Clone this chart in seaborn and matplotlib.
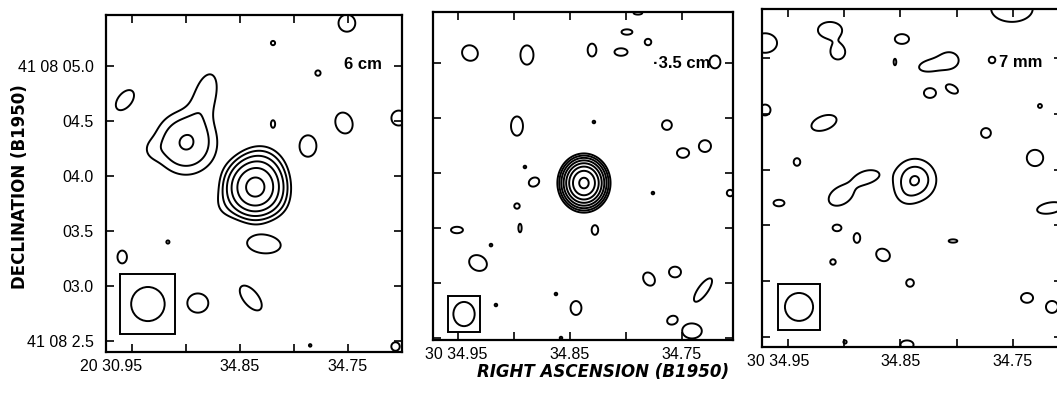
import numpy as np
import pandas as pd
import matplotlib
matplotlib.use("Agg")
import matplotlib.pyplot as plt
import matplotlib.transforms as mtransforms
from matplotlib.patches import Ellipse, Rectangle
import seaborn as sns

# ---------------- data (RA seconds, Dec arcsec offsets from 41 08 00) ----------------
# Panel 1 : 6 cm
p1_ra   = [34.836, 34.830, 34.864, 34.816, 34.900, 34.882, 34.9315,
           34.9565, 34.959, 34.889, 34.840, 34.8278, 34.787, 34.7537, 34.751,
           34.8194, 34.7778, 34.8194, 34.9167, 34.703, 34.706, 34.785]
p1_dec  = [3.895, 4.07, 3.725, 3.745, 4.30, 4.736, 4.236,
           4.69, 3.264, 2.845, 2.891, 3.38, 4.273, 4.482, 5.39,
           5.209, 4.936, 4.473, 3.40, 4.527, 2.45, 2.46]
p1_peak = [40.0, 3.0, 0.8, 0.6, 4.2, 1.6, 0.7,
           1.6, 1.6, 1.6, 1.6, 1.6, 1.6, 1.6, 1.6,
           1.6, 1.6, 1.6, 1.6, 1.6, 1.6, 1.6]
p1_sx   = [0.12, 0.12, 0.10, 0.10, 0.17, 0.20, 0.08,
           0.11, 0.045, 0.10, 0.14, 0.16, 0.08, 0.08, 0.08,
           0.02, 0.025, 0.02, 0.015, 0.07, 0.04, 0.012]
p1_sy   = [0.12, 0.12, 0.10, 0.10, 0.17, 0.095, 0.08,
           0.065, 0.06, 0.09, 0.07, 0.085, 0.10, 0.10, 0.08,
           0.02, 0.025, 0.035, 0.015, 0.07, 0.04, 0.012]
p1_pa   = [0, 0, 0, 0, 0, 74, 0,
           50, 0, 0, -50, -5, 0, 20, 0,
           0, 0, 0, 0, 0, 0, 0]
p1_levels = [1, 2, 4, 8, 16, 32]

# Panel 2 : 3.5 cm
p2_ra   = [34.8375,
           34.9393, 34.8884, 34.8303, 34.8044, 34.7991, 34.7803, 34.7205, 34.7893,
           34.8973, 34.8286, 34.7634, 34.7491, 34.7294, 34.8902, 34.8821, 34.8973,
           34.8277, 34.8946, 34.9509, 34.9205, 34.9321, 34.7759, 34.7070, 34.7794,
           34.7562, 34.7312, 34.8625, 34.9161, 34.8446, 34.7589, 34.741, 34.858]
p2_dec  = [3.909,
           5.091, 5.073, 5.118, 5.10, 5.282, 5.191, 5.01, 5.455,
           4.427, 4.464, 4.436, 4.182, 4.245, 4.055, 3.918, 3.70,
           3.482, 3.50, 3.482, 3.345, 3.182, 3.818, 3.818, 3.036,
           3.10, 2.936, 2.90, 2.80, 2.773, 2.664, 2.564, 2.50]
p2_peak = [150.0] + [1.6] * 32
p2_sx   = [0.075,
           0.07, 0.06, 0.04, 0.06, 0.05, 0.03, 0.05, 0.04,
           0.055, 0.012, 0.045, 0.055, 0.055, 0.012, 0.05, 0.025,
           0.03, 0.015, 0.055, 0.012, 0.07, 0.012, 0.03, 0.05,
           0.055, 0.13, 0.012, 0.012, 0.05, 0.045, 0.09, 0.012]
p2_sy   = [0.085,
           0.075, 0.09, 0.06, 0.035, 0.025, 0.03, 0.06, 0.015,
           0.09, 0.012, 0.045, 0.045, 0.055, 0.012, 0.04, 0.025,
           0.045, 0.04, 0.03, 0.012, 0.085, 0.012, 0.03, 0.065,
           0.05, 0.045, 0.012, 0.012, 0.065, 0.035, 0.07, 0.012]
p2_pa   = [0,
           45, 0, 0, 0, 0, 0, 0, 0,
           0, 0, 0, 0, 0, 0, 30, 0,
           0, 0, 0, 0, 60, 0, 0, 30,
           0, 55, 0, 0, 0, 30, 0, 0]
p2_levels = [1, 2, 4, 8, 16, 32, 64, 128]

# Panel 3 : 7 mm
p3_ra   = [34.8371, 34.846,
           34.7509, 34.9127, 34.9056, 34.9704, 34.8487, 34.8549, 34.8238, 34.8065,
           34.7686, 34.8238, 34.8042, 34.726, 34.9704, 34.918, 34.774, 34.7304,
           34.942, 34.903, 34.8795, 34.958, 34.7170, 34.9064, 34.8887, 34.8033,
           34.8655, 34.91, 34.8415, 34.7375, 34.7153, 34.8442, 34.8993]
p3_dec  = [3.907, 3.754,
           5.44, 5.25, 5.05, 5.134, 5.17, 4.964, 4.93, 4.98,
           4.982, 4.686, 4.722, 4.57, 4.534, 4.418, 4.328, 4.104,
           4.068, 3.765, 3.935, 3.70, 3.656, 3.477, 3.387, 3.36,
           3.235, 3.172, 2.984, 2.85, 2.769, 2.43, 2.455]
p3_peak = [3.1, 0.5] + [1.6] * 31
p3_sx   = [0.126, 0.08,
           0.19, 0.11, 0.065, 0.11, 0.065, 0.012, 0.10, 0.08,
           0.03, 0.055, 0.06, 0.018, 0.05, 0.12, 0.045, 0.075,
           0.03, 0.12, 0.10, 0.05, 0.12, 0.04, 0.03, 0.04,
           0.055, 0.025, 0.035, 0.055, 0.055, 0.06, 0.015]
p3_sy   = [0.126, 0.08,
           0.12, 0.075, 0.065, 0.09, 0.045, 0.03, 0.05, 0.07,
           0.03, 0.045, 0.035, 0.018, 0.05, 0.065, 0.045, 0.075,
           0.035, 0.08, 0.055, 0.03, 0.05, 0.03, 0.045, 0.015,
           0.065, 0.025, 0.035, 0.045, 0.055, 0.04, 0.015]
p3_pa   = [0, 0,
           0, 0, 0, 0, 0, 0, 10, 0,
           0, 0, -30, 0, 0, 20, 0, 0,
           0, 30, 15, 0, 10, 0, 0, 0,
           60, 0, 0, 0, 0, 0, 0]
p3_levels = [1, 2, 3]

# Restoring beams (centre RA, centre Dec, diameter x, diameter y in arcsec)
beam_ra  = [34.9352, 34.9446, 34.9402]
beam_dec = [2.836, 2.718, 2.769]
beam_w   = [0.31, 0.19, 0.25]
beam_h   = [0.31, 0.22, 0.25]

bands = ["6 cm", "\u00b73.5 cm", "7 mm"]
ra_ticks = [34.95, 34.90, 34.85, 34.80, 34.75]
ra_labels_first = ["20 30.95", "30 34.95", "30 34.95"]
ra_labels_other = ["34.85", "34.75"]
dec_ticks = [5.0, 4.5, 4.0, 3.5, 3.0, 2.5]
dec_labels = ["41 08 05.0", "04.5", "04.0", "03.5", "03.0", "41 08 2.5"]

# ---------------- style ----------------
sns.set_theme(style="ticks")
plt.rcParams['font.family'] = ['Liberation Sans', 'DejaVu Sans']
plt.rcParams['axes.linewidth'] = 1.6

W, H = 1057, 401
fig = plt.figure(figsize=(W / 100, H / 100), dpi=100)
fig.patch.set_facecolor('white')

# axes boxes in pixels: left, right, top, bottom
boxes = [(106, 402, 15, 352), (433, 733, 12, 340), (762, 1062, 9, 347)]
xlims = [(34.974, 34.700), (34.9723, 34.7044), (34.9731, 34.7064)]
ylims = [(2.40, 5.464), (2.482, 5.464), (2.41, 5.439)]
first_shift = [-21, -2, -10]
band_pos = [(34.7185, 5.01), (34.725, 5.0), (34.7242, 4.964)]
beam_box = [(0.255, 0.275), (0.14, 0.165), (0.19, 0.205)]  # half width, half height (arcsec)

panels = [
    pd.DataFrame(dict(ra=p1_ra, dec=p1_dec, peak=p1_peak, sx=p1_sx, sy=p1_sy, pa=p1_pa)),
    pd.DataFrame(dict(ra=p2_ra, dec=p2_dec, peak=p2_peak, sx=p2_sx, sy=p2_sy, pa=p2_pa)),
    pd.DataFrame(dict(ra=p3_ra, dec=p3_dec, peak=p3_peak, sx=p3_sx, sy=p3_sy, pa=p3_pa)),
]
levels = [p1_levels, p2_levels, p3_levels]
K = 0.1  # display seconds of RA per arcsec

for i, (df, lev) in enumerate(zip(panels, levels)):
    l, r, t, b = boxes[i]
    ax = fig.add_axes([l / W, (H - b) / H, (r - l) / W, (b - t) / H])
    ax.set_facecolor('white')
    x0, x1 = xlims[i]
    y0, y1 = ylims[i]
    gx = np.linspace(min(x0, x1) - 0.01, max(x0, x1) + 0.01, 700)
    gy = np.linspace(y0 - 0.1, y1 + 0.1, 700)
    X, Y = np.meshgrid(gx, gy)
    Z = np.zeros_like(X)
    for row in df.itertuples():
        dx = (row.ra - X) / K
        dy = Y - row.dec
        th = np.deg2rad(row.pa)
        u = dx * np.cos(th) + dy * np.sin(th)
        v = -dx * np.sin(th) + dy * np.cos(th)
        Z += row.peak * np.exp(-0.5 * ((u / row.sx) ** 2 + (v / row.sy) ** 2))
    ax.contour(X, Y, Z, levels=lev, colors='black', linewidths=1.4)

    # beam
    bw, bh = beam_box[i]
    ax.add_patch(Rectangle((beam_ra[i] + bw * K, beam_dec[i] - bh), -2 * bw * K, 2 * bh,
                           fill=False, lw=1.4, ec='black'))
    ax.add_patch(Ellipse((beam_ra[i], beam_dec[i]), beam_w[i] * K, beam_h[i],
                         fill=False, lw=1.4, ec='black'))

    ax.set_xlim(x0, x1)
    ax.set_ylim(y0, y1)
    ax.set_xticks(ra_ticks)
    ax.set_xticklabels([ra_labels_first[i], "", ra_labels_other[0], "", ra_labels_other[1]],
                       fontsize=11.5)
    ax.set_yticks(dec_ticks)
    if i == 0:
        ax.set_yticklabels(dec_labels, fontsize=11.5)
    else:
        ax.set_yticklabels([])
    ax.tick_params(direction='in', length=6, width=1.2, top=True, right=True,
                   colors='black', labelcolor='black', pad=5)
    ax.tick_params(axis='y', pad=9)
    lab = ax.get_xticklabels()[0]
    lab.set_transform(lab.get_transform() +
                      mtransforms.ScaledTranslation(first_shift[i] / 100, 0, fig.dpi_scale_trans))
    for sp in ax.spines.values():
        sp.set_color('black')
        sp.set_linewidth(1.6)
    ax.text(band_pos[i][0], band_pos[i][1], bands[i], fontsize=12, fontweight='bold',
            ha='right', va='center', color='black')

fig.text(20 / W, (H - 187) / H, "DECLINATION (B1950)", rotation=90, ha='center', va='center',
         fontsize=12, fontweight='bold', family='DejaVu Sans', color='black')
fig.text(603 / W, (H - 372) / H, "RIGHT ASCENSION (B1950)", ha='center', va='center',
         fontsize=12, fontweight='bold', style='italic', family='DejaVu Sans', color='black')

fig.savefig("out.png", dpi=100, facecolor='white')
